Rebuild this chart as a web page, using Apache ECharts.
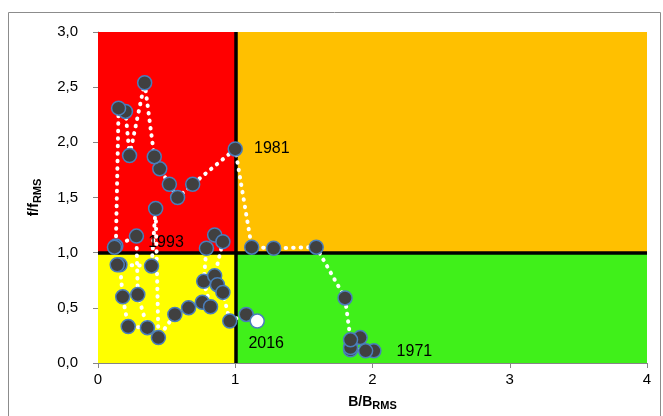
<!DOCTYPE html>
<html><head><meta charset="utf-8">
<script src="https://cdn.jsdelivr.net/npm/echarts@6/dist/echarts.min.js"></script>
<style>html,body{margin:0;padding:0;background:#fff}#c{width:663px;height:416px}</style>
</head><body><div id="c"></div>
<script>
const years = [1971,1972,1973,1974,1975,1976,1977,1978,1979,1980,1981,1982,1983,1984,1985,1986,1987,1988,1989,1990,1991,1992,1993,1994,1995,1996,1997,1998,1999,2000,2001,2002,2003,2004,2005,2006,2007,2008,2009,2010,2011,2012,2013,2014,2015,2016];
const bRatio = [2.01,1.95,1.84,1.84,1.91,1.84,1.80,1.59,1.28,1.12,1.00,0.69,0.58,0.52,0.45,0.41,0.34,0.23,0.20,0.15,0.13,0.12,0.28,0.29,0.36,0.22,0.18,0.16,0.14,0.39,0.42,0.44,0.56,0.66,0.76,0.82,0.77,0.79,0.85,0.91,0.85,0.87,0.91,0.96,1.08,1.16];
const fRatio = [0.11,0.11,0.12,0.14,0.23,0.21,0.59,1.05,1.04,1.05,1.94,1.62,1.50,1.62,1.76,1.87,2.54,1.88,2.28,2.31,1.06,1.05,1.15,0.62,0.32,0.33,0.60,0.89,0.89,0.88,1.40,0.23,0.44,0.50,0.55,0.51,0.74,1.04,1.16,1.10,0.79,0.71,0.64,0.38,0.44,0.38];
const labelledYears = [1971,1981,1993,2016];
const xTicks = [0,1,2,3,4];
const yTicks = [0,0.5,1,1.5,2,2.5,3];

const labelPos = {
  1971: {position:'right', offset:[10,1]},
  1981: {position:'right', offset:[6,0]},
  1993: {position:'right', offset:[-1,6]},
  2016: {position:'bottom', offset:[9,2]}
};
const F = 'Liberation Sans, Arial';
const data = years.map((y,i)=>{
  const d = {value:[bRatio[i], fRatio[i]], year:y};
  if (y === 2016) d.itemStyle = {color:'#ffffff'};
  if (labelledYears.includes(y)) {
    d.label = Object.assign({show:true, formatter:String(y), color:'#000', fontSize:16, fontFamily:F}, labelPos[y]);
  }
  return d;
});
const rich = {a:{fontSize:14,fontWeight:'bold',fontFamily:F,color:'#000'},b:{fontSize:11,fontWeight:'bold',fontFamily:F,color:'#000',padding:[7,0,0,0]}};

const chart = echarts.init(document.getElementById('c'));
chart.setOption({
  animation:false,
  graphic:[{type:'rect', shape:{x:8.5,y:12.5,width:652,height:420}, style:{fill:'none', stroke:'#8c8c8c', lineWidth:1}, z:-10}],
  grid:{left:98, right:16, top:32, bottom:45},
  xAxis:{type:'value', min:0, max:4, interval:1,
    name:'{a|B/B}{b|RMS}', nameLocation:'middle', nameGap:30,
    nameTextStyle:{rich:rich},
    axisLine:{lineStyle:{color:'#868686'}}, axisTick:{show:true,length:5,lineStyle:{color:'#868686'}},
    axisLabel:{color:'#000', fontSize:15, fontFamily:F, margin:9},
    splitLine:{show:false}},
  yAxis:{type:'value', min:0, max:3, interval:0.5,
    name:'{a|f/f}{b|RMS}', nameLocation:'middle', nameGap:55, nameRotate:90,
    nameTextStyle:{rich:rich},
    axisLine:{show:true,lineStyle:{color:'#868686'}}, axisTick:{show:true,length:5,lineStyle:{color:'#868686'}},
    axisLabel:{color:'#000', fontSize:15, fontFamily:F, margin:20, formatter:v=>v.toFixed(1).replace('.',',')},
    splitLine:{show:false}},
  series:[{
    type:'line', data:data, symbol:'circle', symbolSize:14,
    itemStyle:{color:'#404040', borderColor:'#4a7ebb', borderWidth:1.5},
    lineStyle:{color:'#ffffff', width:4, type:[0.5,7], cap:'round'},
    label:{show:false},
    z:5,
    markArea:{silent:true, z:1, itemStyle:{opacity:1}, data:[
      [{coord:[0,1], itemStyle:{color:'#ff0000'}},{coord:[1,3]}],
      [{coord:[1,1], itemStyle:{color:'#ffc000'}},{coord:[4,3]}],
      [{coord:[0,0], itemStyle:{color:'#ffff00'}},{coord:[1,1]}],
      [{coord:[1,0], itemStyle:{color:'#40f01a'}},{coord:[4,1]}]
    ]},
    markLine:{silent:true, symbol:'none', label:{show:false}, lineStyle:{color:'#000', width:3.5, type:'solid'}, data:[
      {xAxis:1}, {yAxis:1}
    ]}
  }]
});
</script></body></html>
